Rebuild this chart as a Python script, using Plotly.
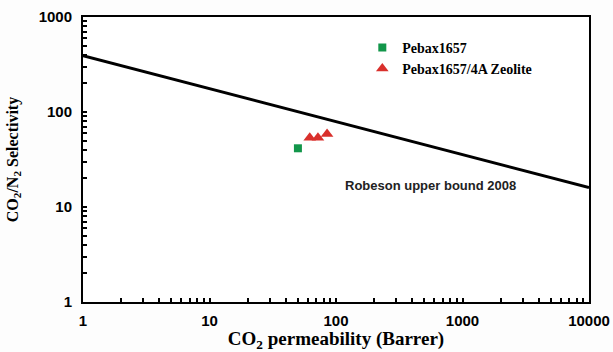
import plotly.graph_objects as go

# Data
pebax_perm = [50]
pebax_sel = [41.5]
zeo_perm = [62, 72, 85]
zeo_sel = [53.5, 53.5, 58.5]
robeson_perm = [1, 10000]
robeson_sel = [392, 16]
x_ticks = [1, 10, 100, 1000, 10000]
y_ticks = [1, 10, 100, 1000]


def with_minor(majors):
    vals, texts = [], []
    for i, m in enumerate(majors):
        vals.append(m)
        texts.append(str(m))
        if i < len(majors) - 1:
            for k in range(2, 10):
                vals.append(m * k)
                texts.append("")
    return vals, texts


xv, xt = with_minor(x_ticks)
yv, yt = with_minor(y_ticks)

fig = go.Figure()
fig.add_trace(go.Scatter(x=robeson_perm, y=robeson_sel, mode="lines",
                         line=dict(color="black", width=3), showlegend=False))
fig.add_trace(go.Scatter(x=pebax_perm, y=pebax_sel, mode="markers", name="Pebax1657",
                         marker=dict(symbol="square", size=8, color="#12964a")))
fig.add_trace(go.Scatter(x=zeo_perm, y=zeo_sel, mode="markers", name="Pebax1657/4A Zeolite",
                         marker=dict(symbol="triangle-up", size=11, color="#d9302c")))

fig.add_annotation(x=0.513, y=0.41, xref="paper", yref="paper", xanchor="left", yanchor="middle",
                   text="Robeson upper bound 2008", showarrow=False,
                   font=dict(family="Liberation Sans", size=13, color="#222", weight="bold"))

axis_common = dict(type="log", showline=True, linecolor="black", linewidth=2, mirror=True,
                   ticks="inside", ticklen=4, tickwidth=1.5, tickcolor="black",
                   showgrid=False, zeroline=False, automargin=False,
                   tickfont=dict(family="Liberation Sans", size=15, color="black", weight="bold"))

fig.update_xaxes(**axis_common, range=[0, 4], tickvals=xv, ticktext=xt, ticklabelstandoff=4,
                 title=dict(text="CO<sub>2</sub> permeability (Barrer)", standoff=6,
                            font=dict(family="Liberation Serif", size=19, color="black", weight="bold")))
fig.update_yaxes(**axis_common, range=[0, 3], tickvals=yv, ticktext=yt, ticklabelstandoff=6,
                 title=dict(text="CO<sub>2</sub>/N<sub>2</sub> Selectivity", standoff=16,
                            font=dict(family="Liberation Serif", size=16, color="black", weight="bold")))

fig.update_layout(width=613, height=352, margin=dict(l=83, r=24, t=17, b=50, autoexpand=False),
                  plot_bgcolor="white", paper_bgcolor="#fdfdfd",
                  legend=dict(x=0.552, y=0.948, xanchor="left", yanchor="top", bgcolor="rgba(0,0,0,0)",
                              itemwidth=30, tracegroupgap=4,
                              font=dict(family="Liberation Serif", size=14, color="black", weight="bold")))

fig.write_html("out.html")
